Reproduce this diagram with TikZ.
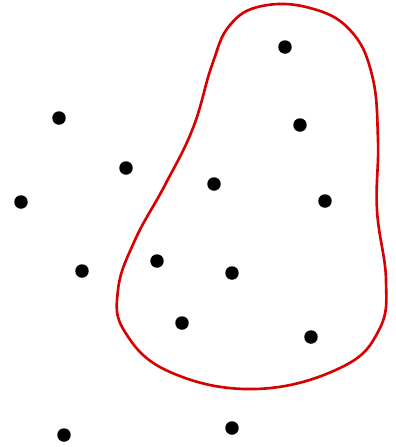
\documentclass[tikz,border=0pt]{standalone}
\usepackage{tikz}

\begin{document}
\begin{tikzpicture}[
        x=0.02cm, y=-0.02cm,
        dot/.style={circle, fill=black, inner sep=0pt, minimum size=0.27cm},
        region/.style={draw=red!85!black, line width=1.5pt, line join=round}
    ]
        \useasboundingbox (0,0) rectangle (396,447);

        % --- POINTS ---
        \node[dot] (p1) at (285,47) {};
        \node[dot] (p2) at (59,118) {};
        \node[dot] (p3) at (300,125) {};
        \node[dot] (p4) at (126,168) {};
        \node[dot] (p5) at (214,184) {};
        \node[dot] (p6) at (21,202) {};
        \node[dot] (p7) at (325,201) {};
        \node[dot] (p8) at (82,271) {};
        \node[dot] (p9) at (157,261) {};
        \node[dot] (p10) at (232,273) {};
        \node[dot] (p11) at (182,323) {};
        \node[dot] (p12) at (311,337) {};
        \node[dot] (p13) at (64,435) {};
        \node[dot] (p14) at (232,428) {};

        % --- SELECTED REGION ---
        \draw[region] plot[smooth cycle, tension=0.7] coordinates {
            (230,25) (262,6) (310,8) (350,30) (372,75) (378,140)
            (377,210) (386,280) (379,330) (340,368) (255,389)
            (170,372) (125,332) (118,290) (135,240) (165,185)
            (193,128) (212,65)};

    \end{tikzpicture}
\end{document}
